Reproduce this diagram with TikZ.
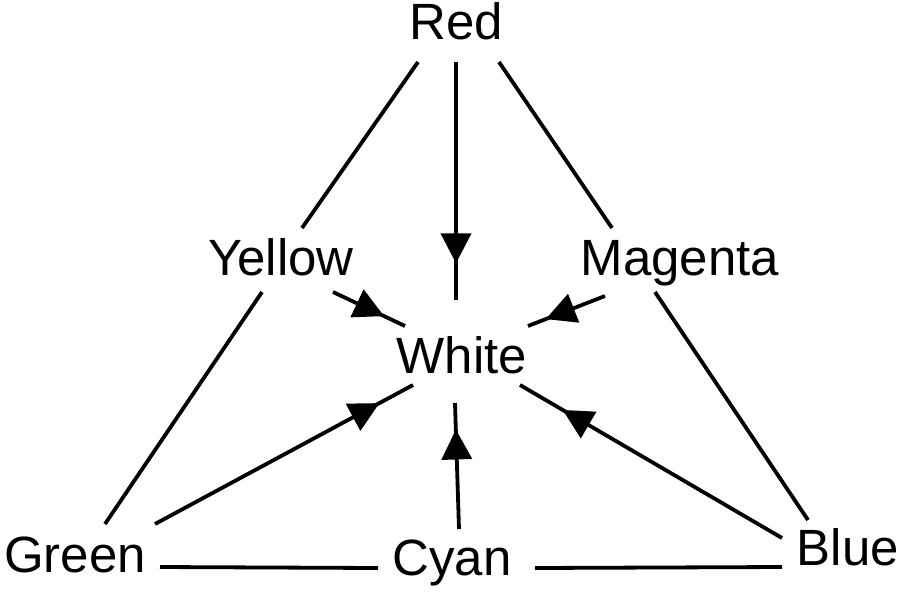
\documentclass[tikz,border=0pt]{standalone}
\usepackage{fontspec}
\setmainfont{Liberation Sans}
\usetikzlibrary{calc,arrows.meta,decorations.markings}
\tikzset{
  lbl/.style={inner sep=0pt, anchor=base, font=\fontsize{51}{61}\selectfont},
  edge/.style={line width=3.8pt, black},
  midarrow/.style={postaction={decorate}, decoration={markings,
    mark=at position #1 with {\arrow{Triangle[length=30pt,width=30pt]}}}}
}
\begin{document}
\begin{tikzpicture}[x=1pt,y=-1pt]
\useasboundingbox (0,0) rectangle (902,592);
\node[lbl] (Red) at (456,39) {Red};
\node[lbl] (Yellow) at (281,275) {Yellow};
\node[lbl] (Magenta) at (680,275) {Magenta};
\node[lbl] (White) at (462,373) {White};
\node[lbl] (Green) at (75,572) {Green};
\node[lbl] (Cyan) at (452,575) {Cyan};
\node[lbl] (Blue) at (848,565) {Blue};
% outer triangle
\draw[edge] ($(Red.base)+(-38,23)$) -- ($(Yellow.base)+(21,-47)$);
\draw[edge] ($(Red.base)+(43,23)$) -- ($(Magenta.base)+(-68,-47)$);
\draw[edge] ($(Yellow.base)+(-19,17)$) -- ($(Green.base)+(30,-48)$);
\draw[edge] ($(Magenta.base)+(-25,17)$) -- ($(Blue.base)+(-40,-45)$);
\draw[edge] ($(Green.base)+(85,-5)$) -- ($(Cyan.base)+(-74,-7)$);
\draw[edge] ($(Cyan.base)+(83,-7)$) -- ($(Blue.base)+(-66,2)$);
% arrows to White
\draw[edge,midarrow=0.846] ($(Red.base)+(0,23)$) -- ($(White.base)+(-6,-73)$);
\draw[edge,midarrow=0.71] ($(Yellow.base)+(52,17)$) -- ($(White.base)+(-57,-47)$);
\draw[edge,midarrow=0.77] ($(Magenta.base)+(-75,21)$) -- ($(White.base)+(66,-47)$);
\draw[edge,midarrow=0.87] ($(Green.base)+(80,-48)$) -- ($(White.base)+(-49,12)$);
\draw[edge,midarrow=0.79] ($(Cyan.base)+(7,-46)$) -- ($(White.base)+(-7,30)$);
\draw[edge,midarrow=0.837] ($(Blue.base)+(-66,-27)$) -- ($(White.base)+(58,12)$);
\end{tikzpicture}
\end{document}
